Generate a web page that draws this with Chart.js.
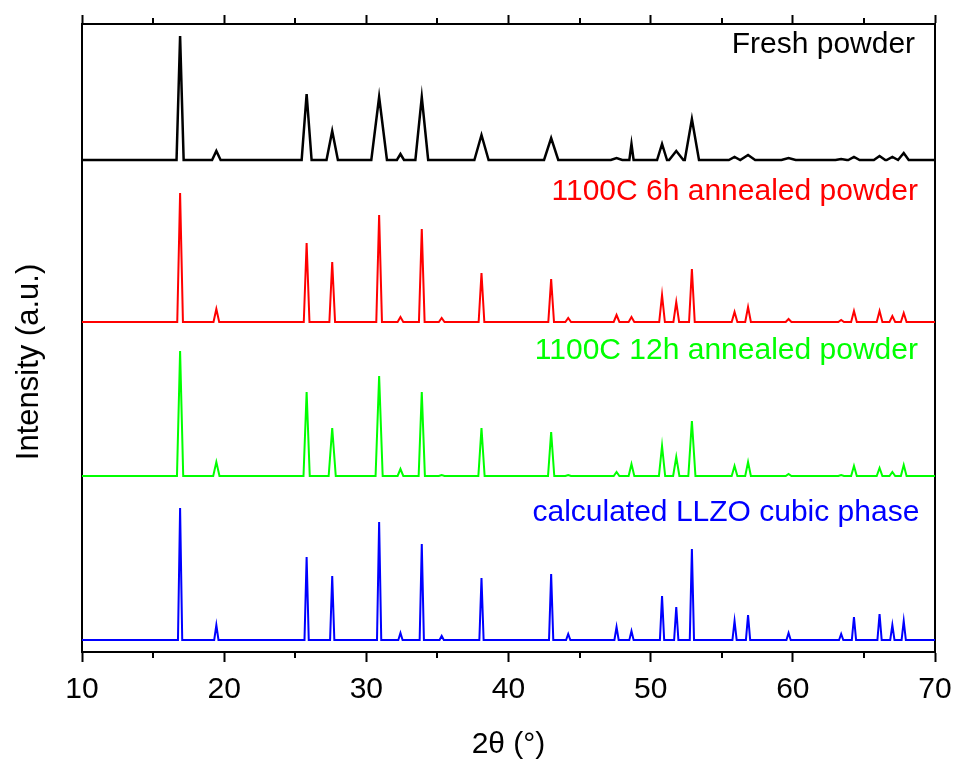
<!DOCTYPE html>
<html>
<head>
<meta charset="utf-8">
<script src="https://cdn.jsdelivr.net/npm/chart.js@4/dist/chart.umd.min.js"></script>
<style>
  html, body { margin: 0; padding: 0; background: #fff; }
  #wrap { width: 960px; height: 765px; }
</style>
</head>
<body>
<div id="wrap"><canvas id="c" width="960" height="765"></canvas></div>
<script>
// ---- data (2θ in degrees, intensity in arbitrary stacked units) ----
const seriesNames = ["Fresh powder", "1100C 6h annealed powder", "1100C 12h annealed powder", "calculated LLZO cubic phase"];
const axisTitles = ["2θ (°)", "Intensity (a.u.)"];
const peakPositions = [16.9, 19.45, 25.8, 27.6, 30.9, 32.4, 33.9, 35.3, 38.1, 43.0, 44.2, 47.6, 48.65, 50.8, 51.8, 52.9, 55.9, 56.85, 59.7, 63.4, 64.3, 66.1, 67.0, 67.8];

const freshBaseline = 492;
const freshPeaks    = [616, 501, 558, 521, 555, 498, 555, 492, 517, 514, 492, 494, 508, 508, 501, 533, 495, 497, 494, 493, 495, 496, 495, 499];
const freshWidths   = [0.25, 0.3, 0.35, 0.4, 0.55, 0.25, 0.45, 0.2, 0.5, 0.5, 0.2, 0.4, 0.15, 0.35, 0.5, 0.5, 0.4, 0.5, 0.5, 0.4, 0.4, 0.4, 0.4, 0.35];

const h6Baseline = 330;
const h6Peaks    = [459, 343, 409, 390, 437, 335, 423, 334, 379, 373, 334, 337, 335, 357, 350, 383, 340, 345, 333, 332, 341, 341, 336, 339];
const h6Widths   = [0.2, 0.2, 0.2, 0.2, 0.2, 0.2, 0.2, 0.2, 0.2, 0.2, 0.2, 0.2, 0.2, 0.2, 0.2, 0.2, 0.2, 0.2, 0.2, 0.2, 0.2, 0.2, 0.2, 0.2];

const h12Baseline = 176;
const h12Peaks    = [301, 190, 260, 224, 276, 183, 260, 177, 224, 220, 177, 180, 188, 206, 195, 231, 186, 190, 178, 177, 186, 184, 180, 187];
const h12Widths   = [0.22, 0.22, 0.22, 0.25, 0.25, 0.2, 0.22, 0.2, 0.22, 0.22, 0.2, 0.2, 0.2, 0.22, 0.22, 0.25, 0.2, 0.2, 0.2, 0.2, 0.2, 0.2, 0.2, 0.2];

const calcBaseline = 12;
const calcPeaks    = [144, 27, 95, 76, 130, 19, 108, 16, 74, 78, 18, 25, 21, 56, 45, 103, 31, 37, 19, 18, 35, 38, 27, 31];
const calcWidths   = [0.15, 0.15, 0.15, 0.15, 0.15, 0.15, 0.15, 0.15, 0.15, 0.15, 0.15, 0.15, 0.15, 0.15, 0.15, 0.15, 0.15, 0.15, 0.15, 0.15, 0.15, 0.15, 0.15, 0.15];

const xTickValues = [10, 20, 30, 40, 50, 60, 70];
const xMinorTickValues = [15, 25, 35, 45, 55, 65];

// ---- build line points from the peak table ----
function buildPattern(base, tops, widths) {
  const pts = [{x: 10, y: base}];
  peakPositions.forEach((p, i) => {
    if (tops[i] === base) return;
    pts.push({x: p - widths[i], y: base});
    pts.push({x: p, y: tops[i]});
    pts.push({x: p + widths[i], y: base});
  });
  pts.push({x: 70, y: base});
  return pts;
}

const FONT = "'Liberation Sans', Arial, sans-serif";

const minorTicks = {
  id: 'minorTicks',
  afterDraw(chart) {
    const ctx = chart.ctx;
    ctx.save();
    ctx.strokeStyle = '#000';
    ctx.lineWidth = 2;
    const xb = chart.scales.x, xt = chart.scales.xTop;
    xMinorTickValues.forEach(v => {
      const px = Math.round(xb.getPixelForValue(v));
      ctx.beginPath(); ctx.moveTo(px, xb.top); ctx.lineTo(px, xb.top + 6); ctx.stroke();
      ctx.beginPath(); ctx.moveTo(px, xt.bottom); ctx.lineTo(px, xt.bottom - 6); ctx.stroke();
    });
    ctx.restore();
  }
};

const seriesLabels = {
  id: 'seriesLabels',
  afterDatasetsDraw(chart, args, opts) {
    const ctx = chart.ctx;
    const xs = chart.scales.x, ys = chart.scales.y;
    ctx.save();
    ctx.font = '30px ' + FONT;
    ctx.textAlign = 'right';
    ctx.textBaseline = 'alphabetic';
    opts.items.forEach((it, i) => {
      ctx.fillStyle = it.color;
      ctx.fillText(seriesNames[i], xs.getPixelForValue(it.x), ys.getPixelForValue(it.y));
    });
    // y-axis title, rotated, slightly below the plot centre as in the reference
    ctx.fillStyle = '#000';
    ctx.font = '31px ' + FONT;
    ctx.textAlign = 'center';
    ctx.textBaseline = 'middle';
    ctx.translate(opts.yTitle.left, ys.getPixelForValue(opts.yTitle.y));
    ctx.rotate(-Math.PI / 2);
    ctx.fillText(axisTitles[1], 0, 0);
    ctx.restore();
  }
};

const colors = ['#000000', '#ff0000', '#00ff00', '#0000ff'];

new Chart(document.getElementById('c'), {
  type: 'scatter',
  data: {
    datasets: [
      { label: seriesNames[0], data: buildPattern(freshBaseline, freshPeaks, freshWidths), borderColor: colors[0], borderWidth: 2.5 },
      { label: seriesNames[1], data: buildPattern(h6Baseline, h6Peaks, h6Widths), borderColor: colors[1], borderWidth: 2 },
      { label: seriesNames[2], data: buildPattern(h12Baseline, h12Peaks, h12Widths), borderColor: colors[2], borderWidth: 2 },
      { label: seriesNames[3], data: buildPattern(calcBaseline, calcPeaks, calcWidths), borderColor: colors[3], borderWidth: 2 }
    ].map(d => Object.assign(d, { showLine: true, pointRadius: 0, tension: 0, fill: false }))
  },
  options: {
    responsive: false,
    animation: false,
    layout: { padding: { left: 0, right: 0, top: 0, bottom: 0 } },
    plugins: {
      legend: { display: false },
      tooltip: { enabled: false },
      seriesLabels: {
        items: [
          { x: 68.6, y: 599, color: colors[0] },
          { x: 68.8, y: 452, color: colors[1] },
          { x: 68.8, y: 293, color: colors[2] },
          { x: 68.9, y: 131, color: colors[3] }
        ],
        yTitle: { left: 29, y: 290 }
      }
    },
    scales: {
      x: {
        type: 'linear', position: 'bottom', min: 10, max: 70,
        afterBuildTicks: s => { s.ticks = xTickValues.map(v => ({value: v})); },
        afterFit: s => { s.height = 113; s.paddingLeft = 0; s.paddingRight = 0; },
        ticks: { color: '#000', font: { size: 30, family: FONT }, padding: 10, maxRotation: 0 },
        grid: { display: true, drawOnChartArea: false, drawTicks: true, tickLength: 10, tickWidth: 2, tickColor: '#000' },
        border: { display: true, color: '#000', width: 2 },
        title: { display: true, text: axisTitles[0], color: '#000', font: { size: 30, family: FONT }, padding: { top: 0, bottom: 2 } }
      },
      xTop: {
        type: 'linear', position: 'top', min: 10, max: 70,
        afterBuildTicks: s => { s.ticks = xTickValues.map(v => ({value: v})); },
        afterFit: s => { s.height = 24; s.paddingLeft = 0; s.paddingRight = 0; },
        ticks: { display: false },
        grid: { display: true, drawOnChartArea: false, drawTicks: true, tickLength: 9, tickWidth: 2, tickColor: '#000' },
        border: { display: true, color: '#000', width: 2 }
      },
      y: {
        type: 'linear', position: 'left', min: 0, max: 628,
        afterFit: s => { s.width = 82; },
        ticks: { display: false },
        grid: { display: false, drawOnChartArea: false, drawTicks: false },
        border: { display: true, color: '#000', width: 2 }
      },
      yRight: {
        type: 'linear', position: 'right', min: 0, max: 628,
        afterFit: s => { s.width = 25; },
        ticks: { display: false },
        grid: { display: false, drawOnChartArea: false, drawTicks: false },
        border: { display: true, color: '#000', width: 2 }
      }
    }
  },
  plugins: [minorTicks, seriesLabels]
});
</script>
</body>
</html>
